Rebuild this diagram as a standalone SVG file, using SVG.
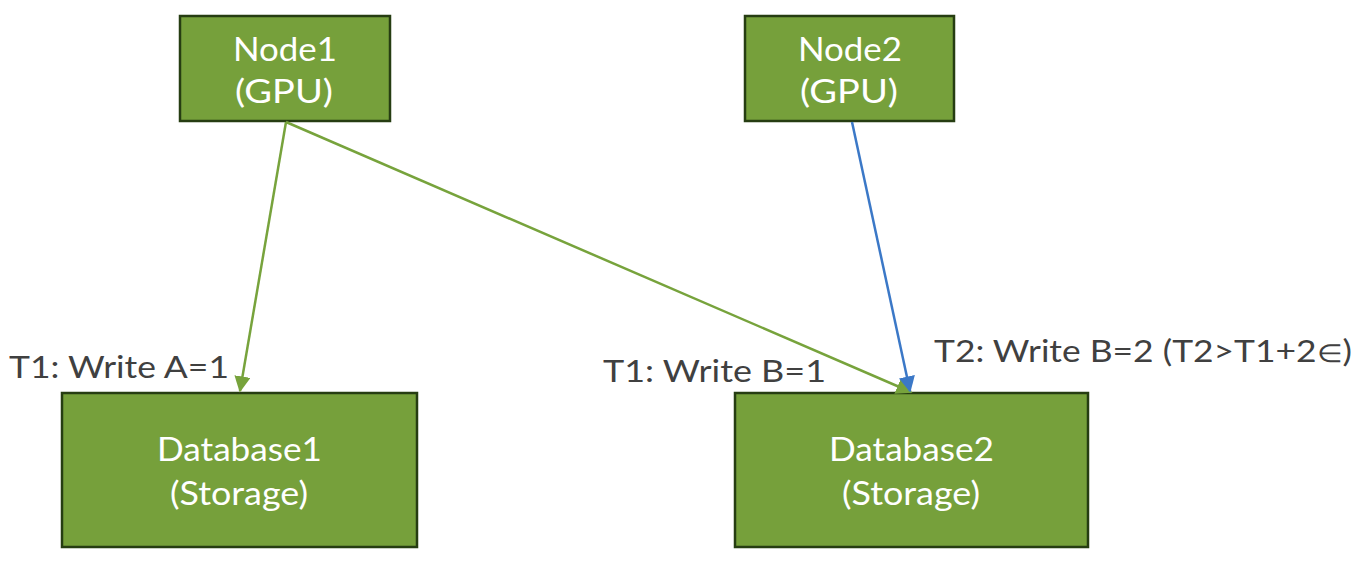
<svg xmlns="http://www.w3.org/2000/svg" width="1362" height="570" viewBox="0 0 1362 570">
<style>
.box{fill:#76a03b;stroke:#263d12;stroke-width:2.5}
.nt{font-family:Lato,"Liberation Sans",sans-serif;font-size:32px;fill:#ffffff}
.lb{font-family:Lato,"Liberation Sans",sans-serif;font-size:30px;fill:#404040}
.g{stroke:#77a33c;stroke-width:2.5;fill:none}
.b{stroke:#3b78c7;stroke-width:2.5;fill:none}
</style>
<defs>
<marker id="ag" viewBox="0 0 10 10" refX="9" refY="5" markerWidth="6.5" markerHeight="6.5" orient="auto" markerUnits="strokeWidth"><path d="M0,0 L10,5 L0,10 z" fill="#77a33c"/></marker>
<marker id="ab" viewBox="0 0 10 10" refX="9" refY="5" markerWidth="6.5" markerHeight="6.5" orient="auto" markerUnits="strokeWidth"><path d="M0,0 L10,5 L0,10 z" fill="#3b78c7"/></marker>
</defs>
<rect width="1362" height="570" fill="#ffffff"/>
<g id="node1"><rect class="box" x="180" y="16" width="210" height="105"/><text class="nt" x="233" y="61" textLength="104" lengthAdjust="spacingAndGlyphs">Node1</text><text class="nt" x="235" y="103" textLength="98" lengthAdjust="spacingAndGlyphs">(GPU)</text></g>
<g id="node2"><rect class="box" x="745" y="16" width="209" height="105"/><text class="nt" x="798" y="61" textLength="104" lengthAdjust="spacingAndGlyphs">Node2</text><text class="nt" x="800" y="103" textLength="98" lengthAdjust="spacingAndGlyphs">(GPU)</text></g>
<g id="database1"><rect class="box" x="62" y="393" width="355" height="154"/><text class="nt" x="157" y="461" textLength="165" lengthAdjust="spacingAndGlyphs">Database1</text><text class="nt" x="170" y="505" textLength="138" lengthAdjust="spacingAndGlyphs">(Storage)</text></g>
<g id="database2"><rect class="box" x="735" y="393" width="353" height="154"/><text class="nt" x="829" y="461" textLength="165" lengthAdjust="spacingAndGlyphs">Database2</text><text class="nt" x="842" y="505" textLength="138" lengthAdjust="spacingAndGlyphs">(Storage)</text></g>
<g id="connectors">
<line class="g" x1="286" y1="122" x2="240" y2="391" marker-end="url(#ag)"/>
<line class="g" x1="286" y1="122" x2="911" y2="392" marker-end="url(#ag)"/>
<line class="b" x1="852" y1="122" x2="910" y2="391" marker-end="url(#ab)"/>
</g>
<g id="labels">
<text class="lb" x="9" y="378" textLength="220" lengthAdjust="spacingAndGlyphs">T1: Write A=1</text>
<text class="lb" x="603" y="382" textLength="223" lengthAdjust="spacingAndGlyphs">T1: Write B=1</text>
<text class="lb" x="934" y="362" textLength="418" lengthAdjust="spacingAndGlyphs">T2: Write B=2 (T2&gt;T1+2<tspan font-size="25">∈</tspan>)</text>
</g>
</svg>
